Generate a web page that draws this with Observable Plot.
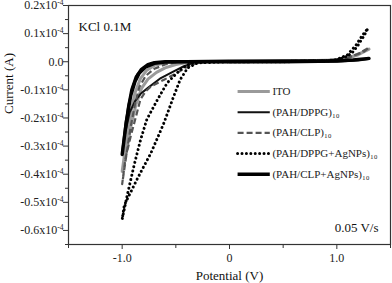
<!DOCTYPE html>
<html><head><meta charset="utf-8">
<script src="https://cdn.jsdelivr.net/npm/d3@7"></script>
<script src="https://cdn.jsdelivr.net/npm/@observablehq/plot@0.6"></script>
<style>body{margin:0;background:#fff} svg, svg text{font-family:"Liberation Serif","Times New Roman",serif !important}</style>
</head><body><div id="chart"></div>
<script>
// ---- data (current in units of 10^-4 A, potential in V) ----
const seriesNames = ["ITO","(PAH/DPPG)₁₀","(PAH/CLP)₁₀","(PAH/DPPG+AgNPs)₁₀","(PAH/CLP+AgNPs)₁₀"];

const itoV = [0,0.5,0.9,1.05,1.15,1.25,1.3,1.2,1.1,1.0,0.5,0,-0.25,-0.4,-0.5,-0.6,-0.68,-0.76,-0.82,-0.87,-0.92,-0.96,-1.0,-0.96,-0.92,-0.88,-0.83,-0.77,-0.7,-0.6,-0.5,-0.3,0];
const itoI = [0,0.001,0.004,0.01,0.02,0.035,0.045,0.025,0.012,0.006,0.002,0,0,-0.003,-0.01,-0.022,-0.038,-0.062,-0.095,-0.15,-0.23,-0.31,-0.39,-0.28,-0.18,-0.11,-0.06,-0.03,-0.013,-0.004,0,0,0];

const dppgV = [0,0.5,1.0,1.2,1.3,1.2,1.0,0.5,0,-0.25,-0.35,-0.43,-0.52,-0.64,-0.76,-0.83,-0.88,-0.93,-0.97,-1.0,-0.97,-0.94,-0.9,-0.86,-0.8,-0.73,-0.65,-0.5,0];
const dppgI = [0,0.001,0.003,0.006,0.01,0.004,0.001,0,0,0,-0.006,-0.017,-0.034,-0.058,-0.093,-0.115,-0.14,-0.18,-0.25,-0.32,-0.22,-0.15,-0.085,-0.045,-0.02,-0.006,-0.001,0,0];

const clpV = [0,0.5,0.9,1.05,1.15,1.25,1.3,1.2,1.1,1.0,0.5,0,-0.2,-0.3,-0.39,-0.49,-0.61,-0.73,-0.78,-0.83,-0.87,-0.92,-0.97,-1.0,-0.96,-0.92,-0.88,-0.84,-0.78,-0.7,-0.6,-0.5,-0.4,0];
const clpI = [0,0.001,0.004,0.01,0.02,0.035,0.05,0.028,0.014,0.007,0.002,0,0,-0.005,-0.017,-0.04,-0.064,-0.087,-0.105,-0.134,-0.193,-0.264,-0.346,-0.435,-0.33,-0.23,-0.15,-0.09,-0.05,-0.025,-0.01,-0.002,0,0];

const dagV = [0,0.5,0.9,1.0,1.1,1.18,1.24,1.29,1.25,1.2,1.15,1.1,1.0,0.9,0.5,0,-0.3,-0.39,-0.46,-0.52,-0.61,-0.73,-0.86,-0.98,-1.0,-0.95,-0.89,-0.83,-0.77,-0.67,-0.58,-0.49,-0.43,-0.36,-0.3,0];
const dagI = [0,0.001,0.003,0.008,0.025,0.06,0.095,0.119,0.09,0.06,0.035,0.02,0.006,0.002,0,0,-0.004,-0.022,-0.064,-0.123,-0.217,-0.323,-0.417,-0.51,-0.56,-0.47,-0.37,-0.28,-0.205,-0.134,-0.075,-0.04,-0.02,-0.006,0,0];

const cagV = [0,0.5,1.0,1.15,1.3,1.15,1.0,0.5,0,-0.4,-0.6,-0.7,-0.76,-0.82,-0.87,-0.91,-0.94,-0.97,-1.0,-0.96,-0.92,-0.88,-0.84,-0.78,-0.7,-0.6,-0.4,0];
const cagI = [0.002,0.003,0.004,0.006,0.012,0.006,0.002,0,0,0,0,-0.003,-0.01,-0.027,-0.055,-0.1,-0.16,-0.24,-0.33,-0.21,-0.12,-0.07,-0.04,-0.018,-0.006,-0.001,0,0.002];

const xMajorTicks = [-1, 0, 1];
const xMinorTicks = [-1.5, -0.5, 0.5, 1.5];
const yMajorTicks = [-0.6,-0.5,-0.4,-0.3,-0.2,-0.1,0,0.1,0.2];
const yMinorTicks = [-0.65,-0.55,-0.45,-0.35,-0.25,-0.15,-0.05,0.05,0.15];

// ---- styles ----
const FONT = "'Liberation Serif', 'Times New Roman', serif";
const styles = [
  {stroke:"#9a9a9a", strokeWidth:3, dash:null, cap:"butt"},
  {stroke:"#111", strokeWidth:2, dash:null, cap:"butt"},
  {stroke:"#555", strokeWidth:2.2, dash:"6,3", cap:"butt"},
  {stroke:"#000", strokeWidth:3, dash:"0.01,4.4", cap:"round"},
  {stroke:"#000", strokeWidth:3.4, dash:null, cap:"butt"}
];
const raw = [[itoV,itoI],[dppgV,dppgI],[clpV,clpI],[dagV,dagI],[cagV,cagI]];
const tables = raw.map(([vs,is],k)=> vs.map((v,i)=>({series:seriesNames[k], V:v, I:is[i]})));

const legendTop = -0.106, legendStep = -0.0735;
const legendRows = seriesNames.map((n,i)=>({name:n, y: legendTop + i*legendStep, i}));

const fmtY = d => Math.abs(d) < 1e-9 ? "0.0" : d.toFixed(1) + "x10^-4";
const fmtX = d => d === 0 ? "0" : d.toFixed(1);

const marks = [];
marks.push(Plot.axisX(xMajorTicks, {tickSize:5, tickPadding:4, tickFormat:fmtX, fontSize:12, fontFamily:FONT, label:null, stroke:"#333", color:"#222"}));
marks.push(Plot.axisX(xMinorTicks, {tickSize:4, tickFormat:()=>"", label:null, stroke:"#333"}));
marks.push(Plot.axisY(yMajorTicks, {tickSize:5, tickPadding:0, tickFormat:fmtY, fontSize:12, fontFamily:FONT, label:null, stroke:"#333", color:"#222"}));
marks.push(Plot.axisY(yMinorTicks, {tickSize:3, tickFormat:()=>"", label:null, stroke:"#333"}));
tables.forEach((t,k)=>{
  const s = styles[k];
  marks.push(Plot.line(t, {x:"V", y:"I", stroke:s.stroke, strokeWidth:s.strokeWidth, strokeDasharray:s.dash, strokeLinecap:s.cap, strokeLinejoin:"round", curve:"linear"}));
});
legendRows.forEach(r=>{
  const s = styles[r.i];
  marks.push(Plot.ruleY([r], {y:"y", x1:0.08, x2:0.38, stroke:s.stroke, strokeWidth:s.strokeWidth, strokeDasharray:s.dash, strokeLinecap:s.cap}));
});
marks.push(Plot.text(legendRows, {x:0.40, y:"y", text:"name", textAnchor:"start", fontSize:11, fontFamily:FONT, fill:"#222"}));
marks.push(Plot.text(["KCl 0.1M"], {frameAnchor:"top-left", dx:10, dy:16, textAnchor:"start", fontSize:13, fontFamily:FONT, fill:"#111"}));
marks.push(Plot.text(["0.05 V/s"], {frameAnchor:"bottom-right", dx:-12, dy:-13, textAnchor:"end", fontSize:13, fontFamily:FONT, fill:"#111"}));
marks.push(Plot.text(["Potential (V)"], {frameAnchor:"bottom", dy:35, fontSize:13, fontFamily:FONT, fill:"#111"}));
marks.push(Plot.text(["Current (A)"], {frameAnchor:"left", dx:-60, dy:-11, rotate:-90, fontSize:13, fontFamily:FONT, fill:"#111"}));
marks.push(Plot.frame({stroke:"#333", strokeWidth:1.2}));

const chart = Plot.plot({
  width:392, height:283,
  marginLeft:68, marginRight:2, marginTop:5, marginBottom:39,
  x:{domain:[-1.5,1.5]},
  y:{domain:[-0.65,0.2]},
  style:{fontFamily:FONT, background:"#fff"},
  marks
});
// render the exponent of the y tick labels as a real superscript
chart.querySelectorAll("text").forEach(t => {
  const s = t.textContent;
  const k = s.indexOf("^");
  if (k < 0) return;
  t.textContent = s.slice(0, k);
  const sup = document.createElementNS("http://www.w3.org/2000/svg", "tspan");
  sup.setAttribute("dy", "-4");
  sup.setAttribute("font-size", "7.5");
  sup.textContent = s.slice(k + 1);
  t.appendChild(sup);
});
document.getElementById("chart").appendChild(chart);
</script>
</body></html>
